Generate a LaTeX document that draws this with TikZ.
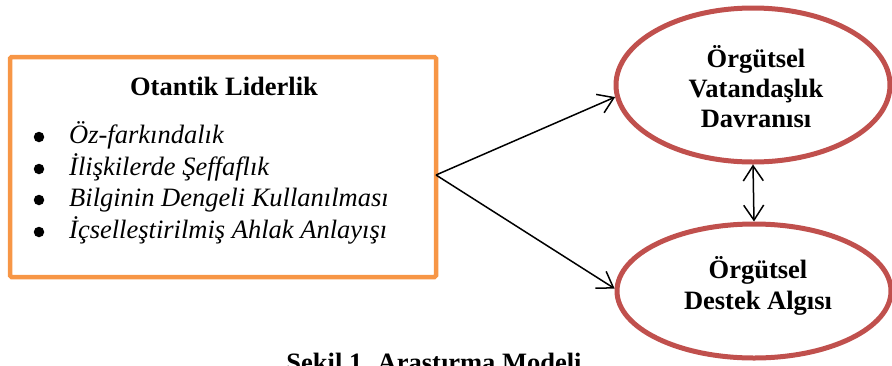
\documentclass[tikz,border=0pt]{standalone}
\usepackage{fontspec}
\setmainfont{Liberation Serif}
\usetikzlibrary{arrows.meta,shapes.geometric}
\definecolor{boxorange}{HTML}{F79646}
\definecolor{ellred}{HTML}{C0504D}
\tikzset{
  leaderbox/.style={draw=boxorange,line width=4.5pt,rounded corners=1.5pt},
  outcome/.style={ellipse,draw=ellred,line width=5pt,inner sep=0pt,fill=none},
  conn/.style={line width=1.5pt,-{Straight Barb[length=15pt,width=20pt]}},
  biconn/.style={line width=1.5pt,{Straight Barb[length=15pt,width=20pt]}-{Straight Barb[length=15pt,width=20pt]}},
  btxt/.style={font=\fontsize{26.5}{30}\selectfont\bfseries,inner sep=0pt,anchor=base},
  itxt/.style={font=\fontsize{26.5}{30}\selectfont\itshape,inner sep=0pt,anchor=base west},
  dot/.style={circle,fill=black,inner sep=0pt,minimum size=10.5pt}
}
\begin{document}
\begin{tikzpicture}[x=1pt,y=-1pt]
\useasboundingbox (0,0) rectangle (892,365);
% box
\draw[leaderbox] (10,57) rectangle (436,277);
\node[btxt] (title) at (224,95) {Otantik Liderlik};
\node[dot] (b1) at (39,137) {};
\node[dot] (b2) at (39,169) {};
\node[dot] (b3) at (39,200) {};
\node[dot] (b4) at (39,232) {};
\node[itxt] (t1) at (69,143) {Öz-farkındalık};
\node[itxt] (t2) at (69,175) {İlişkilerde Şeffaflık};
\node[itxt] (t3) at (69,206) {Bilginin Dengeli Kullanılması};
\node[itxt] (t4) at (69,238) {İçselleştirilmiş Ahlak Anlayışı};
% ellipses
\node[outcome,minimum width=274pt,minimum height=154pt] (e1) at (753,85) {};
\node[outcome,minimum width=274pt,minimum height=134pt] (e2) at (754,291) {};
\node[btxt] (e1a) at (756,67) {Örgütsel};
\node[btxt] (e1b) at (756,97) {Vatandaşlık};
\node[btxt] (e1c) at (756,127) {Davranısı};
\node[btxt] (e2a) at (758,278) {Örgütsel};
\node[btxt] (e2b) at (758,309) {Destek Algısı};
% connectors
\coordinate (src) at (436,175);
\draw[conn] (src) -- (e1.185);
\draw[conn] (src) -- (e2.179);
\draw[biconn] (e1.south) -- (e2.north);
% caption (cut off at the bottom, as in the reference)
\node[btxt] (cap) at (434,371) {Şekil 1. Araştırma Modeli};
\end{tikzpicture}
\end{document}
